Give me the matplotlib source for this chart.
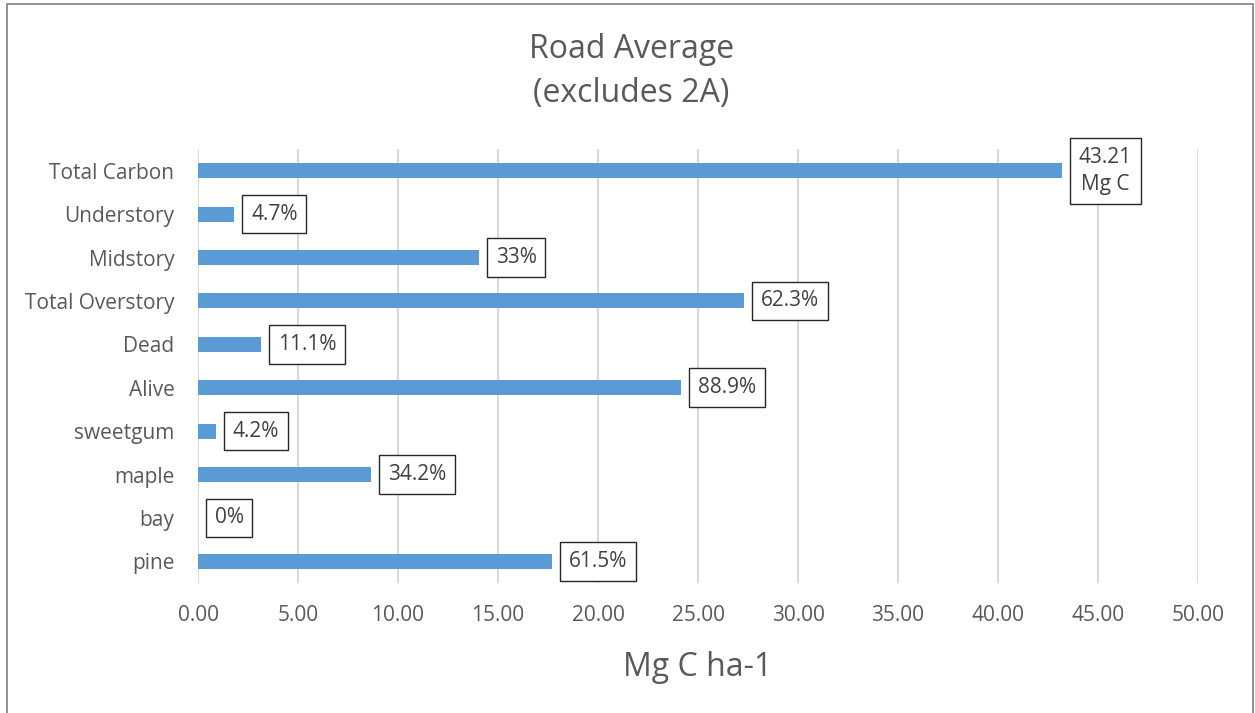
import matplotlib

matplotlib.use("Agg")
import matplotlib.pyplot as plt
from matplotlib.patches import Rectangle

# Carbon pools, bottom to top as drawn
categories = ["pine", "bay", "maple", "sweetgum", "Alive", "Dead",
              "Total Overstory", "Midstory", "Understory", "Total Carbon"]
carbon = [17.72, 0.0, 8.67, 0.90, 24.15, 3.17, 27.32, 14.05, 1.82, 43.21]
bar_labels = ["61.5%", "0%", "34.2%", "4.2%", "88.9%", "11.1%",
              "62.3%", "33%", "4.7%", "43.21\nMg C"]
x_ticks = [0, 5, 10, 15, 20, 25, 30, 35, 40, 45, 50]

BAR_COLOR = "#5B9BD5"
TEXT_COLOR = "#595959"
GRID_COLOR = "#D9D9D9"

plt.rcParams["font.family"] = ["Open Sans", "DejaVu Sans"]

fig = plt.figure(figsize=(12.55, 7.13), dpi=100)
ax = fig.add_axes([0.1578, 0.1823, 0.7968, 0.6087])

y = range(len(categories))
ax.barh(y, carbon, height=0.345, color=BAR_COLOR, zorder=3)

for yi, val, lab in zip(y, carbon, bar_labels):
    ax.annotate(lab, xy=(val, yi), xytext=(12, 0), textcoords="offset points",
                ha="left", va="center", multialignment="center",
                fontsize=15, color="#404040", zorder=4, linespacing=1.4,
                bbox=dict(boxstyle="square,pad=0.42", fc="white", ec="#262626", lw=1))

ax.set_xlim(0, 50)
ax.set_ylim(-0.5, len(categories) - 0.5)
ax.set_xticks(x_ticks)
ax.set_xticklabels([f"{t:.2f}" for t in x_ticks])
ax.set_yticks(list(y))
ax.set_yticklabels(categories)
ax.tick_params(axis="both", length=0, labelsize=15, labelcolor=TEXT_COLOR)
ax.tick_params(axis="y", pad=17)
ax.tick_params(axis="x", pad=16)
ax.xaxis.grid(True, color=GRID_COLOR, lw=1.5, zorder=0)
for s in ax.spines.values():
    s.set_visible(False)

ax.set_xlabel("Mg C ha-1", fontsize=23, color=TEXT_COLOR, labelpad=18)

fig.text(0.503, 0.9, "Road Average\n(excludes 2A)", ha="center", va="center",
         fontsize=23, color=TEXT_COLOR, linespacing=1.45)

# outer chart frame
fig.patches.append(Rectangle((7 / 1255, -0.05), 1246 / 1255, 1.05 - 4 / 713,
                             transform=fig.transFigure, fill=False,
                             ec="#7F7F7F", lw=1.2))

plt.savefig("out.png", dpi=100)
plt.close()
